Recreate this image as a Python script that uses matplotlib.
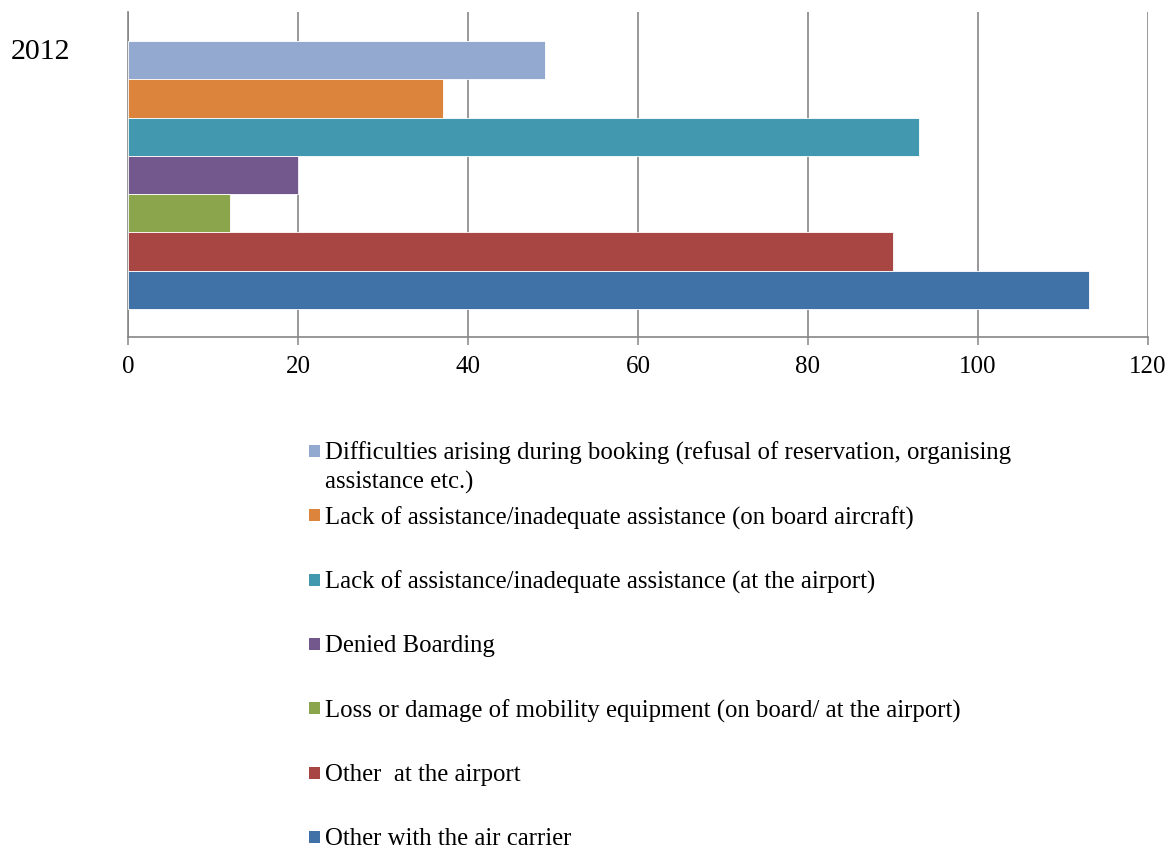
import matplotlib.pyplot as plt
from matplotlib.patches import Rectangle

plt.rcParams['font.family'] = ['Liberation Serif', 'DejaVu Serif']

# Data
category = "2012"
labels = [
    "Difficulties arising during booking (refusal of reservation, organising\nassistance etc.)",
    "Lack of assistance/inadequate assistance (on board aircraft)",
    "Lack of assistance/inadequate assistance (at the airport)",
    "Denied Boarding",
    "Loss or damage of mobility equipment (on board/ at the airport)",
    "Other  at the airport",
    "Other with the air carrier",
]
values = [49, 37, 93, 20, 12, 90, 113]
colors = ["#93A9CF", "#DD843C", "#4198AF", "#72588D", "#8BA54C", "#A84644", "#4071A7"]
xticks = [0, 20, 40, 60, 80, 100, 120]

W, H = 1175, 852
fig = plt.figure(figsize=(W / 100, H / 100), dpi=100)
ax = fig.add_axes([128 / W, 1 - 337 / H, 1020 / W, 325 / H])

n = len(values)
ypos = [n - 1 - i for i in range(n)]
ax.barh(ypos, values, height=1.0, color=colors, edgecolor="white", linewidth=0.6, zorder=3)

ax.set_xlim(0, 120)
ax.set_ylim(-1.23, 7.26)
ax.set_xticks(xticks)
ax.set_yticks([])
ax.tick_params(axis="x", direction="out", length=6, width=1.1, color="#868686",
               labelsize=18, pad=8)
ax.xaxis.grid(True, color="#868686", linewidth=1.2, zorder=0)
for s in ["top", "right"]:
    ax.spines[s].set_visible(False)
for s in ["left", "bottom"]:
    ax.spines[s].set_color("#868686")
    ax.spines[s].set_linewidth(1.2)

# category label
fig.text(41 / W, 1 - 52 / H, category, fontsize=21.5, ha="center", va="center")

# legend drawn manually
for i, (lab, col) in enumerate(zip(labels, colors)):
    ypx = 451 + 64.3 * i
    fig.patches.append(Rectangle((309 / W, 1 - (ypx + 6) / H), 11 / W, 12 / H,
                                 transform=fig.transFigure, facecolor=col,
                                 edgecolor="none"))
    fig.text(325 / W, 1 - (ypx - 9) / H, lab, fontsize=17.8, ha="left", va="top",
             linespacing=1.33)

plt.savefig("out.png", dpi=100)
